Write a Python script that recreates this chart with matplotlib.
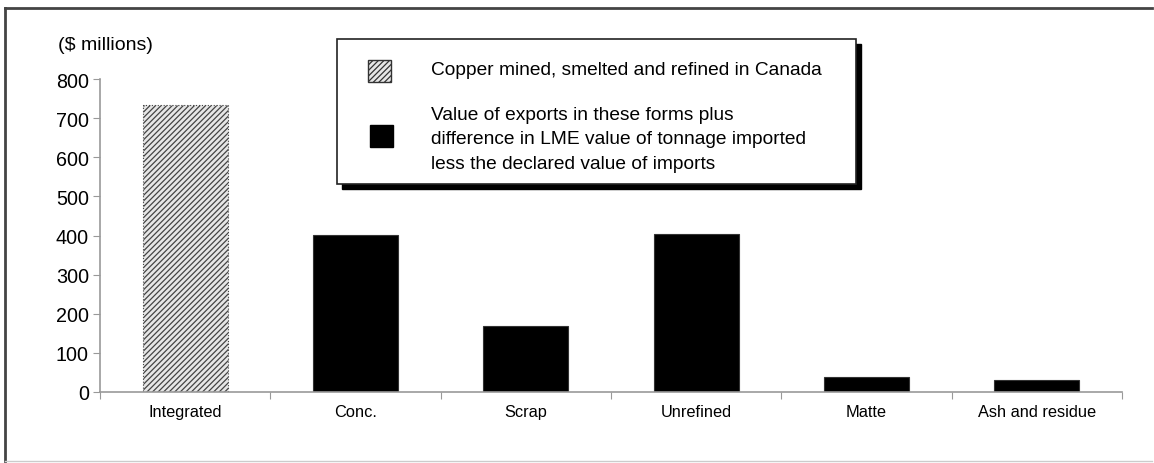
import numpy as np
import matplotlib.pyplot as plt
from matplotlib.patches import Rectangle
from matplotlib.lines import Line2D

plt.rcParams['font.family'] = ['Liberation Sans', 'DejaVu Sans']
plt.rcParams['hatch.color'] = '#444444'
plt.rcParams['hatch.linewidth'] = 0.9

categories = ['Integrated', 'Conc.', 'Scrap', 'Unrefined', 'Matte', 'Ash and residue']
values = [734, 402, 169, 404, 38, 31]
yticks = [0, 100, 200, 300, 400, 500, 600, 700, 800]

W, H = 1154, 464
fig = plt.figure(figsize=(W / 100, H / 100), dpi=100)
ax = fig.add_axes([100 / W, 1 - 393 / H, 1022 / W, 313 / H])

x = np.arange(len(categories))
bars = ax.bar(x, values, width=0.5, color='black', edgecolor='#333333', linewidth=0.8)
bars[0].set_facecolor('#e6e6e6')
bars[0].set_hatch('//////')
bars[0].set_edgecolor('#444444')
bars[0].set_linestyle(':')

ax.set_xlim(-0.5, len(categories) - 0.5)
ax.set_ylim(0, 800)
ax.set_yticks(yticks)
ax.tick_params(axis='y', labelsize=14.2, length=5, color='#999999', pad=3)
ax.set_xticks(np.arange(len(categories) + 1) - 0.5)
ax.set_xticklabels([])
ax.set_xticks(x, minor=True)
ax.set_xticklabels(categories, minor=True)
ax.tick_params(axis='x', which='major', length=5, color='#999999')
ax.tick_params(axis='x', which='minor', length=0, labelsize=11.8, pad=9)
for s in ['top', 'right']:
    ax.spines[s].set_visible(False)
for s in ['left', 'bottom']:
    ax.spines[s].set_color('#999999')
    ax.spines[s].set_linewidth(1.2)

fig.text(58 / W, 1 - 45 / H, '($ millions)', fontsize=14, va='center', ha='left')

# outer frame
fig.add_artist(Line2D([5 / W, 5 / W], [1 - 9 / H, 1 - 462 / H], color='#444444', lw=2, transform=fig.transFigure))
fig.add_artist(Line2D([5 / W, 1 - 2 / W], [1 - 9 / H, 1 - 9 / H], color='#444444', lw=2, transform=fig.transFigure))
fig.add_artist(Line2D([5 / W, 1 - 2 / W], [1 - 462 / H, 1 - 462 / H], color='#cccccc', lw=1, transform=fig.transFigure))

# legend box with shadow
lx0, lx1, ly0, ly1 = 337, 856, 40, 185
fig.add_artist(Rectangle(((lx0 + 5) / W, 1 - (ly1 + 5) / H), (lx1 - lx0) / W, (ly1 - ly0) / H,
                         transform=fig.transFigure, facecolor='black', edgecolor='black'))
fig.add_artist(Rectangle((lx0 / W, 1 - ly1 / H), (lx1 - lx0) / W, (ly1 - ly0) / H,
                         transform=fig.transFigure, facecolor='white', edgecolor='#222222', lw=1.2))
fig.add_artist(Rectangle((368 / W, 1 - 83 / H), 23 / W, 22 / H, transform=fig.transFigure,
                         facecolor='#e6e6e6', edgecolor='#333333', hatch='//////', lw=1))
fig.add_artist(Rectangle((370 / W, 1 - 148 / H), 23 / W, 22 / H, transform=fig.transFigure,
                         facecolor='black', edgecolor='black', lw=1))
fig.text(431 / W, 1 - 71 / H, 'Copper mined, smelted and refined in Canada', fontsize=13.8, va='center')
fig.text(431 / W, 1 - 140 / H,
         'Value of exports in these forms plus\n'
         'difference in LME value of tonnage imported\n'
         'less the declared value of imports',
         fontsize=13.8, va='center', linespacing=1.55)

fig.savefig('out.png', dpi=100)
